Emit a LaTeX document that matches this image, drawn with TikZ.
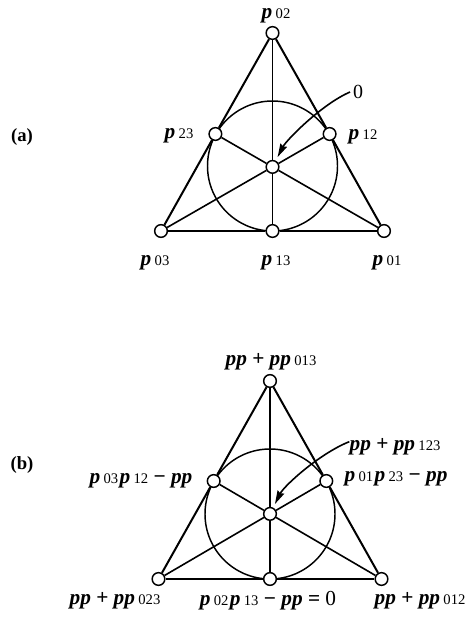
\documentclass[tikz,border=0pt]{standalone}
\usepackage{fontspec}
\setmainfont{Liberation Serif}
\usetikzlibrary{arrows.meta}
\newcommand\sbx[1]{\kern2.5pt{\fontsize{11}{12}\selectfont\upshape\mdseries #1}}
\newcommand\pv[1]{\textbf{\textit{p}}\sbx{#1}}
\newcommand\ppv{\textbf{\textit{pp}}}
\newcommand\opsp{\hspace{4pt}}
\newcommand\opl{\textbf{+}}
\newcommand\omn{\textbf{−}}
\begin{document}
\begin{tikzpicture}[x=0.75pt,y=-0.75pt,
  dot/.style={circle,draw,fill=white,inner sep=0pt,minimum size=9.5pt,line width=1.1pt},
  lbl/.style={inner sep=0pt,font=\fontsize{16}{18}\selectfont},
  tag/.style={inner sep=0pt,font=\fontsize{14}{16}\selectfont\bfseries},
  side/.style={line width=1.5pt},
  med/.style={line width=1.2pt},
  vline/.style={line width=0.8pt},
  baseedge/.style={line width=0.8pt},
  ring/.style={line width=1.1pt},
  arr/.style={line width=1.2pt,-{Stealth[length=10pt,width=5.5pt,inset=1pt]},shorten >=3pt}]
\useasboundingbox (0,0) rectangle (467,620);
% ---------------- (a)
\draw[ring] (272.5,166) circle[radius=48.75pt];
\node[dot] (a02) at (272.5,33) {};
\node[dot] (a03) at (161,231) {};
\node[dot] (a01) at (384,231) {};
\node[dot] (a13) at (272.5,231) {};
\node[dot] (a23) at (215.4,134) {};
\node[dot] (a12) at (329.6,134) {};
\node[dot] (ac) at (272.5,166.9) {};
\draw[side] (a03) -- (a23) (a23) -- (a02) (a02) -- (a12) (a12) -- (a01);
\draw[baseedge] (a03) -- (a13) (a13) -- (a01);
\draw[vline] (a02) -- (ac) (ac) -- (a13);
\draw[med] (a23) -- (ac) (ac) -- (a01) (a12) -- (ac) (ac) -- (a03);
\node[lbl] (la02) at (276,16) {\pv{02}};
\node[lbl] (la23) at (179,136) {\pv{23}};
\node[lbl] (la12) at (363,137) {\pv{12}};
\node[lbl] (la03) at (155,263) {\pv{03}};
\node[lbl] (la13) at (276,263) {\pv{13}};
\node[lbl] (la01) at (387,263) {\pv{01}};
\node[lbl,inner sep=2pt,font=\fontsize{15}{17}\selectfont] (zero) at (358,92) {0};
\node[tag] (taga) at (22,137) {(a)};
\draw[arr] (zero.west) .. controls +(-28,12) and +(14,-27) .. (ac);
% ---------------- (b)
\draw[ring] (270,514) circle[radius=48.75pt];
\node[dot] (b0) at (270,381) {};
\node[dot] (bl) at (158.5,579) {};
\node[dot] (br) at (381.5,579) {};
\node[dot] (bm) at (270,579) {};
\node[dot] (bL) at (213.7,481) {};
\node[dot] (bR) at (326.3,481) {};
\node[dot] (bc) at (270,513.9) {};
\draw[side] (bl) -- (bL) (bL) -- (b0) (b0) -- (bR) (bR) -- (br);
\draw[baseedge] (bl) -- (bm) (bm) -- (br);
\draw[vline] (b0) -- (bc) (bc) -- (bm);
\draw[med] (bL) -- (bc) (bc) -- (br) (bR) -- (bc) (bc) -- (bl);
\node[lbl] (lb0) at (271,362) {\ppv\opsp\opl\opsp\ppv\sbx{013}};
\node[lbl] (lbL) at (141,481) {\pv{03}\kern1pt\pv{12}\opsp\omn\opsp\ppv};
\node[lbl] (lbR) at (396,479) {\pv{01}\kern1pt\pv{23}\opsp\omn\opsp\ppv};
\node[lbl] (lbc) at (395,447) {\ppv\opsp\opl\opsp\ppv\sbx{123}};
\node[lbl] (lbl) at (115,601) {\ppv\opsp\opl\opsp\ppv\sbx{023}};
\node[lbl] (lbm) at (268,601) {\pv{02}\kern1pt\pv{13}\opsp\omn\opsp\ppv\opsp\textbf{=}\opsp0};
\node[lbl] (lbr) at (420,601) {\ppv\opsp\opl\opsp\ppv\sbx{012}};
\node[tag] (tagb) at (22,465) {(b)};
\draw[arr] ([yshift=4pt]lbc.west) .. controls +(-30,12) and +(14,-28) .. (bc);
\end{tikzpicture}
\end{document}
